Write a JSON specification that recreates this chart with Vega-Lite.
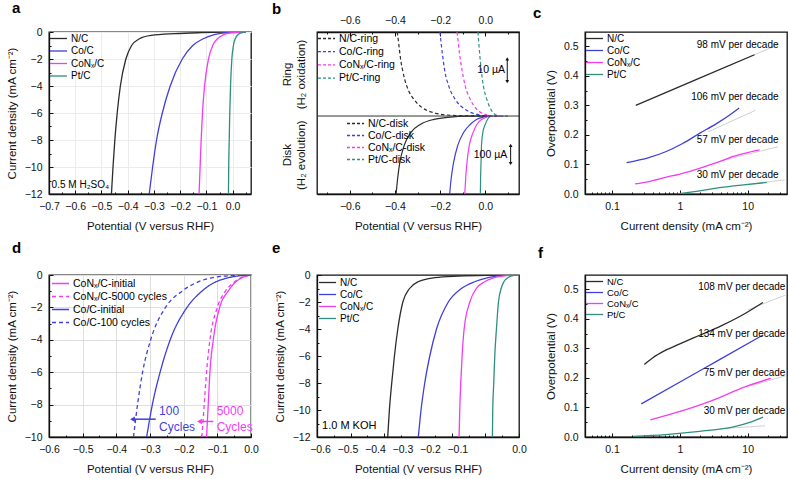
{
"$schema":"https://vega.github.io/schema/vega-lite/v6.json",
"padding":{"left":5,"top":0,"right":0,"bottom":0},
"bounds":"flush",
"columns":3,
"spacing":{"row":81,"column":66},
"resolve":{"scale":{"color":"independent","strokeDash":"independent"},"legend":{"color":"independent","strokeDash":"independent"}},
"config":{
 "font":"Liberation Sans",
 "view":{"stroke":"#111","strokeWidth":1.3},
 "axis":{"labelFontSize":10.5,"titleFontSize":11.5,"titleFontWeight":"normal","labelColor":"#111","titleColor":"#111","domainColor":"#111","tickColor":"#111","domainWidth":1.3,"tickWidth":1,"labelPadding":11,"titlePadding":7,"grid":false,"labelFlush":false,"labelOverlap":false,"labelBound":false},
 "legend":{"symbolType":"M-1,0L2.1,0","symbolSize":121,"symbolStrokeWidth":1.5,"symbolFillColor":"transparent","labelFontSize":10,"rowPadding":0.5,"padding":0,"labelOffset":9,"orient":"top-left","offset":0},
 "title":{"fontSize":15,"fontWeight":"bold","color":"#000","anchor":"start","frame":"group"},
 "line":{"strokeWidth":1.3,"interpolate":"monotone"},
 "text":{"fontSize":10,"font":"Liberation Sans"}
},
"datasets":{
 "a":[
  {"s":"N/C","x":-0.462,"y":-12},{"s":"N/C","x":-0.456,"y":-10},{"s":"N/C","x":-0.449,"y":-8},{"s":"N/C","x":-0.44,"y":-6},{"s":"N/C","x":-0.428,"y":-4},{"s":"N/C","x":-0.407,"y":-2},{"s":"N/C","x":-0.385,"y":-1},{"s":"N/C","x":-0.355,"y":-0.5},{"s":"N/C","x":-0.31,"y":-0.25},{"s":"N/C","x":-0.22,"y":-0.12},{"s":"N/C","x":-0.12,"y":-0.05},{"s":"N/C","x":-0.02,"y":-0.01},{"s":"N/C","x":0.05,"y":0},
  {"s":"Co/C","x":-0.318,"y":-12},{"s":"Co/C","x":-0.305,"y":-10},{"s":"Co/C","x":-0.29,"y":-8},{"s":"Co/C","x":-0.268,"y":-6},{"s":"Co/C","x":-0.238,"y":-4},{"s":"Co/C","x":-0.192,"y":-2},{"s":"Co/C","x":-0.152,"y":-1},{"s":"Co/C","x":-0.112,"y":-0.5},{"s":"Co/C","x":-0.07,"y":-0.2},{"s":"Co/C","x":-0.02,"y":-0.05},{"s":"Co/C","x":0.05,"y":0},
  {"s":"CoNₓ/C","x":-0.128,"y":-12},{"s":"CoNₓ/C","x":-0.124,"y":-10},{"s":"CoNₓ/C","x":-0.12,"y":-8},{"s":"CoNₓ/C","x":-0.115,"y":-6},{"s":"CoNₓ/C","x":-0.107,"y":-4},{"s":"CoNₓ/C","x":-0.092,"y":-2},{"s":"CoNₓ/C","x":-0.076,"y":-1},{"s":"CoNₓ/C","x":-0.058,"y":-0.5},{"s":"CoNₓ/C","x":-0.035,"y":-0.2},{"s":"CoNₓ/C","x":0.0,"y":-0.04},{"s":"CoNₓ/C","x":0.05,"y":0},
  {"s":"Pt/C","x":-0.016,"y":-12},{"s":"Pt/C","x":-0.015,"y":-10},{"s":"Pt/C","x":-0.013,"y":-8},{"s":"Pt/C","x":-0.011,"y":-6},{"s":"Pt/C","x":-0.008,"y":-4},{"s":"Pt/C","x":-0.003,"y":-2},{"s":"Pt/C","x":0.003,"y":-1},{"s":"Pt/C","x":0.01,"y":-0.5},{"s":"Pt/C","x":0.02,"y":-0.2},{"s":"Pt/C","x":0.035,"y":-0.05},{"s":"Pt/C","x":0.05,"y":0}
 ],
 "a_txt":[{"x":-0.69,"y":-11.3,"t":"0.5 M H₂SO₄"}],
 "b_ring":[
  {"s":"N/C-ring","x":-0.39,"y":1.0},{"s":"N/C-ring","x":-0.383,"y":0.856},{"s":"N/C-ring","x":-0.378,"y":0.74},{"s":"N/C-ring","x":-0.373,"y":0.642},{"s":"N/C-ring","x":-0.366,"y":0.544},{"s":"N/C-ring","x":-0.356,"y":0.428},{"s":"N/C-ring","x":-0.341,"y":0.311},{"s":"N/C-ring","x":-0.315,"y":0.194},{"s":"N/C-ring","x":-0.278,"y":0.097},{"s":"N/C-ring","x":-0.227,"y":0.039},{"s":"N/C-ring","x":-0.168,"y":0.012},{"s":"N/C-ring","x":-0.08,"y":0.002},{"s":"N/C-ring","x":0.05,"y":0},
  {"s":"Co/C-ring","x":-0.201,"y":1.0},{"s":"Co/C-ring","x":-0.19,"y":0.74},{"s":"Co/C-ring","x":-0.18,"y":0.544},{"s":"Co/C-ring","x":-0.161,"y":0.35},{"s":"Co/C-ring","x":-0.132,"y":0.194},{"s":"Co/C-ring","x":-0.088,"y":0.077},{"s":"Co/C-ring","x":-0.037,"y":0.019},{"s":"Co/C-ring","x":0.007,"y":0},{"s":"Co/C-ring","x":0.06,"y":0},
  {"s":"CoNₓ/C-ring","x":-0.125,"y":1.0},{"s":"CoNₓ/C-ring","x":-0.114,"y":0.74},{"s":"CoNₓ/C-ring","x":-0.103,"y":0.544},{"s":"CoNₓ/C-ring","x":-0.088,"y":0.35},{"s":"CoNₓ/C-ring","x":-0.066,"y":0.194},{"s":"CoNₓ/C-ring","x":-0.037,"y":0.077},{"s":"CoNₓ/C-ring","x":0.0,"y":0.019},{"s":"CoNₓ/C-ring","x":0.036,"y":0},{"s":"CoNₓ/C-ring","x":0.08,"y":0},
  {"s":"Pt/C-ring","x":-0.033,"y":1.0},{"s":"Pt/C-ring","x":-0.025,"y":0.74},{"s":"Pt/C-ring","x":-0.018,"y":0.544},{"s":"Pt/C-ring","x":-0.008,"y":0.35},{"s":"Pt/C-ring","x":0.007,"y":0.194},{"s":"Pt/C-ring","x":0.025,"y":0.077},{"s":"Pt/C-ring","x":0.043,"y":0.019},{"s":"Pt/C-ring","x":0.065,"y":0},{"s":"Pt/C-ring","x":0.1,"y":0}
 ],
 "b_disk":[
  {"s":"N/C-disk","x":-0.395,"y":-0.93},{"s":"N/C-disk","x":-0.388,"y":-0.74},{"s":"N/C-disk","x":-0.378,"y":-0.546},{"s":"N/C-disk","x":-0.359,"y":-0.35},{"s":"N/C-disk","x":-0.329,"y":-0.195},{"s":"N/C-disk","x":-0.286,"y":-0.098},{"s":"N/C-disk","x":-0.227,"y":-0.039},{"s":"N/C-disk","x":-0.154,"y":-0.012},{"s":"N/C-disk","x":-0.081,"y":-0.002},{"s":"N/C-disk","x":0.007,"y":0},
  {"s":"Co/C-disk","x":-0.158,"y":-0.93},{"s":"Co/C-disk","x":-0.151,"y":-0.74},{"s":"Co/C-disk","x":-0.14,"y":-0.546},{"s":"Co/C-disk","x":-0.122,"y":-0.35},{"s":"Co/C-disk","x":-0.096,"y":-0.195},{"s":"Co/C-disk","x":-0.066,"y":-0.098},{"s":"Co/C-disk","x":-0.037,"y":-0.039},{"s":"Co/C-disk","x":-0.008,"y":-0.012},{"s":"Co/C-disk","x":0.021,"y":0},
  {"s":"CoNₓ/C-disk","x":-0.091,"y":-0.93},{"s":"CoNₓ/C-disk","x":-0.087,"y":-0.74},{"s":"CoNₓ/C-disk","x":-0.081,"y":-0.546},{"s":"CoNₓ/C-disk","x":-0.071,"y":-0.35},{"s":"CoNₓ/C-disk","x":-0.054,"y":-0.195},{"s":"CoNₓ/C-disk","x":-0.037,"y":-0.098},{"s":"CoNₓ/C-disk","x":-0.015,"y":-0.039},{"s":"CoNₓ/C-disk","x":0.007,"y":-0.012},{"s":"CoNₓ/C-disk","x":0.029,"y":0},
  {"s":"Pt/C-disk","x":-0.022,"y":-0.93},{"s":"Pt/C-disk","x":-0.021,"y":-0.74},{"s":"Pt/C-disk","x":-0.019,"y":-0.546},{"s":"Pt/C-disk","x":-0.017,"y":-0.35},{"s":"Pt/C-disk","x":-0.011,"y":-0.195},{"s":"Pt/C-disk","x":0.0,"y":-0.098},{"s":"Pt/C-disk","x":0.01,"y":-0.039},{"s":"Pt/C-disk","x":0.018,"y":-0.012},{"s":"Pt/C-disk","x":0.029,"y":0}
 ],
 "b_base":[{"y":0}],
 "b_bar":[{"x":0.097,"lo":0.41,"hi":0.68},{"x":0.112,"lo":-0.565,"hi":-0.35}],
 "b_txt":[{"x":0.087,"y":0.545,"t":"10 µA"},{"x":0.097,"y":-0.46,"t":"100 µA"}],
 "c":[
  {"s":"N/C","x":0.224,"y":0.3},{"s":"N/C","x":1.7,"y":0.386},{"s":"N/C","x":12.6,"y":0.471},
  {"s":"Co/C","x":0.164,"y":0.106},{"s":"Co/C","x":0.348,"y":0.123},{"s":"Co/C","x":0.617,"y":0.143},{"s":"Co/C","x":1.1,"y":0.171},{"s":"Co/C","x":1.95,"y":0.205},{"s":"Co/C","x":3.47,"y":0.238},{"s":"Co/C","x":5.5,"y":0.268},{"s":"Co/C","x":7.5,"y":0.291},
  {"s":"CoNₓ/C","x":0.219,"y":0.034},{"s":"CoNₓ/C","x":0.35,"y":0.042},{"s":"CoNₓ/C","x":0.617,"y":0.056},{"s":"CoNₓ/C","x":1.1,"y":0.07},{"s":"CoNₓ/C","x":1.95,"y":0.087},{"s":"CoNₓ/C","x":3.47,"y":0.106},{"s":"CoNₓ/C","x":6.17,"y":0.127},{"s":"CoNₓ/C","x":10,"y":0.14},{"s":"CoNₓ/C","x":15,"y":0.149},
  {"s":"Pt/C","x":0.92,"y":0.0},{"s":"Pt/C","x":1.74,"y":0.009},{"s":"Pt/C","x":3.47,"y":0.02},{"s":"Pt/C","x":8.7,"y":0.031},{"s":"Pt/C","x":19.1,"y":0.039}
 ],
 "c_fit":[
  {"s":"N/C","x":3,"y":0.41},{"s":"N/C","x":28,"y":0.505},
  {"s":"Co/C","x":2.6,"y":0.21},{"s":"Co/C","x":13,"y":0.283},
  {"s":"CoNₓ/C","x":4,"y":0.112},{"s":"CoNₓ/C","x":28,"y":0.16},
  {"s":"Pt/C","x":10,"y":0.032},{"s":"Pt/C","x":35,"y":0.048}
 ],
 "c_txt":[{"x":28.5,"y":0.503,"t":"98 mV per decade"},{"x":28.5,"y":0.328,"t":"106 mV per decade"},{"x":28.5,"y":0.183,"t":"57 mV per decade"},{"x":28.5,"y":0.063,"t":"30 mV per decade"}],
 "d":[
  {"s":"CoNₓ/C-initial","x":-0.132,"y":-10},{"s":"CoNₓ/C-initial","x":-0.127,"y":-8},{"s":"CoNₓ/C-initial","x":-0.122,"y":-6},{"s":"CoNₓ/C-initial","x":-0.112,"y":-4},{"s":"CoNₓ/C-initial","x":-0.093,"y":-2},{"s":"CoNₓ/C-initial","x":-0.068,"y":-1},{"s":"CoNₓ/C-initial","x":-0.049,"y":-0.5},{"s":"CoNₓ/C-initial","x":-0.025,"y":-0.15},{"s":"CoNₓ/C-initial","x":0,"y":0},
  {"s":"CoNₓ/C-5000 cycles","x":-0.146,"y":-10},{"s":"CoNₓ/C-5000 cycles","x":-0.139,"y":-8},{"s":"CoNₓ/C-5000 cycles","x":-0.132,"y":-6},{"s":"CoNₓ/C-5000 cycles","x":-0.122,"y":-4},{"s":"CoNₓ/C-5000 cycles","x":-0.1,"y":-2},{"s":"CoNₓ/C-5000 cycles","x":-0.076,"y":-1},{"s":"CoNₓ/C-5000 cycles","x":-0.054,"y":-0.5},{"s":"CoNₓ/C-5000 cycles","x":-0.028,"y":-0.15},{"s":"CoNₓ/C-5000 cycles","x":0,"y":0},
  {"s":"Co/C-initial","x":-0.31,"y":-10},{"s":"Co/C-initial","x":-0.293,"y":-8},{"s":"Co/C-initial","x":-0.27,"y":-6},{"s":"Co/C-initial","x":-0.24,"y":-4},{"s":"Co/C-initial","x":-0.19,"y":-2},{"s":"Co/C-initial","x":-0.146,"y":-1},{"s":"Co/C-initial","x":-0.112,"y":-0.5},{"s":"Co/C-initial","x":-0.073,"y":-0.2},{"s":"Co/C-initial","x":-0.035,"y":-0.05},{"s":"Co/C-initial","x":0,"y":0},
  {"s":"Co/C-100 cycles","x":-0.349,"y":-10},{"s":"Co/C-100 cycles","x":-0.337,"y":-8},{"s":"Co/C-100 cycles","x":-0.322,"y":-6},{"s":"Co/C-100 cycles","x":-0.298,"y":-4},{"s":"Co/C-100 cycles","x":-0.254,"y":-2},{"s":"Co/C-100 cycles","x":-0.205,"y":-1},{"s":"Co/C-100 cycles","x":-0.16,"y":-0.45},{"s":"Co/C-100 cycles","x":-0.11,"y":-0.15},{"s":"Co/C-100 cycles","x":-0.05,"y":-0.03},{"s":"Co/C-100 cycles","x":0,"y":0}
 ],
 "d_arrow":[{"g":"Co","x":-0.283,"x2":-0.352,"y":-8.9},{"g":"CoN","x":-0.112,"x2":-0.153,"y":-9.04}],
 "d_txt":[{"g":"Co","x":-0.273,"y":-8.4,"t":"100"},{"g":"Co","x":-0.273,"y":-9.4,"t":"Cycles"},{"g":"CoN","x":-0.102,"y":-8.4,"t":"5000"},{"g":"CoN","x":-0.102,"y":-9.4,"t":"Cycles"}],
 "e":[
  {"s":"N/C","x":-0.39,"y":-12},{"s":"N/C","x":-0.385,"y":-10},{"s":"N/C","x":-0.378,"y":-8},{"s":"N/C","x":-0.37,"y":-6},{"s":"N/C","x":-0.36,"y":-4},{"s":"N/C","x":-0.345,"y":-2},{"s":"N/C","x":-0.325,"y":-1},{"s":"N/C","x":-0.3,"y":-0.5},{"s":"N/C","x":-0.25,"y":-0.2},{"s":"N/C","x":-0.18,"y":-0.08},{"s":"N/C","x":-0.1,"y":-0.02},{"s":"N/C","x":0,"y":0},
  {"s":"Co/C","x":-0.299,"y":-12},{"s":"Co/C","x":-0.291,"y":-10},{"s":"Co/C","x":-0.28,"y":-8},{"s":"Co/C","x":-0.265,"y":-6},{"s":"Co/C","x":-0.245,"y":-4},{"s":"Co/C","x":-0.21,"y":-2},{"s":"Co/C","x":-0.171,"y":-1},{"s":"Co/C","x":-0.132,"y":-0.5},{"s":"Co/C","x":-0.092,"y":-0.2},{"s":"Co/C","x":-0.04,"y":-0.03},{"s":"Co/C","x":0,"y":0},
  {"s":"CoNₓ/C","x":-0.178,"y":-12},{"s":"CoNₓ/C","x":-0.176,"y":-10},{"s":"CoNₓ/C","x":-0.173,"y":-8},{"s":"CoNₓ/C","x":-0.169,"y":-6},{"s":"CoNₓ/C","x":-0.163,"y":-4},{"s":"CoNₓ/C","x":-0.146,"y":-2},{"s":"CoNₓ/C","x":-0.127,"y":-1},{"s":"CoNₓ/C","x":-0.102,"y":-0.5},{"s":"CoNₓ/C","x":-0.073,"y":-0.2},{"s":"CoNₓ/C","x":-0.03,"y":-0.03},{"s":"CoNₓ/C","x":0,"y":0},
  {"s":"Pt/C","x":-0.079,"y":-12},{"s":"Pt/C","x":-0.078,"y":-10},{"s":"Pt/C","x":-0.075,"y":-8},{"s":"Pt/C","x":-0.072,"y":-6},{"s":"Pt/C","x":-0.067,"y":-4},{"s":"Pt/C","x":-0.061,"y":-2},{"s":"Pt/C","x":-0.053,"y":-1},{"s":"Pt/C","x":-0.045,"y":-0.5},{"s":"Pt/C","x":-0.033,"y":-0.2},{"s":"Pt/C","x":-0.015,"y":-0.02},{"s":"Pt/C","x":0,"y":0}
 ],
 "e_txt":[{"x":-0.585,"y":-11.15,"t":"1.0 M KOH"}],
 "f":[
  {"s":"N/C","x":0.3,"y":0.245},{"s":"N/C","x":0.4,"y":0.268},{"s":"N/C","x":0.6,"y":0.292},{"s":"N/C","x":1,"y":0.315},{"s":"N/C","x":2,"y":0.345},{"s":"N/C","x":4,"y":0.375},{"s":"N/C","x":8,"y":0.41},{"s":"N/C","x":16.8,"y":0.455},
  {"s":"Co/C","x":0.27,"y":0.112},{"s":"Co/C","x":1.1,"y":0.191},{"s":"Co/C","x":3.47,"y":0.256},{"s":"Co/C","x":16.8,"y":0.345},
  {"s":"CoNₓ/C","x":0.367,"y":0.058},{"s":"CoNₓ/C","x":1.1,"y":0.089},{"s":"CoNₓ/C","x":3.47,"y":0.129},{"s":"CoNₓ/C","x":8.7,"y":0.168},{"s":"CoNₓ/C","x":21.9,"y":0.198},
  {"s":"Pt/C","x":0.208,"y":0.002},{"s":"Pt/C","x":0.617,"y":0.008},{"s":"Pt/C","x":1.95,"y":0.019},{"s":"Pt/C","x":6.17,"y":0.034},{"s":"Pt/C","x":11,"y":0.05},{"s":"Pt/C","x":16.8,"y":0.067}
 ],
 "f_fit":[
  {"s":"N/C","x":10,"y":0.43},{"s":"N/C","x":36,"y":0.48},
  {"s":"CoNₓ/C","x":10,"y":0.17},{"s":"CoNₓ/C","x":36,"y":0.207},
  {"s":"Pt/C","x":4,"y":0.028},{"s":"Pt/C","x":18,"y":0.038}
 ],
 "f_txt":[{"x":36,"y":0.509,"t":"108 mV per decade"},{"x":36,"y":0.347,"t":"134 mV per decade"},{"x":36,"y":0.218,"t":"75 mV per decade"},{"x":36,"y":0.089,"t":"30 mV per decade"}]
},
"concat":[
 {
  "width":202,"height":162,
  "title":{"text":"a","dx":-37,"offset":11},
  "resolve":{"axis":{"x":"independent","y":"independent"}},
  "layer":[
   {"data":{"name":"a"},"mark":{"type":"line","clip":true},
    "encoding":{
     "x":{"field":"x","type":"quantitative","scale":{"domain":[-0.7,0.07],"nice":false,"zero":false},
      "axis":{"title":"Potential (V versus RHF)","labelOverlap":false,"values":[-0.7,-0.65,-0.6,-0.55,-0.5,-0.45,-0.4,-0.35,-0.3,-0.25,-0.2,-0.15,-0.1,-0.05,0,0.05],
       "labelExpr":"abs(datum.value*10-round(datum.value*10))<0.01 ? format(datum.value,'.1f') : ''",
       "tickSize":{"condition":{"test":"abs(datum.value*10-round(datum.value*10))<0.01","value":-4},"value":-2},
       "grid":true,"gridColor":"#ececec","gridOpacity":{"condition":{"test":"abs(datum.value*10-round(datum.value*10))<0.01","value":1},"value":0}}},
     "y":{"field":"y","type":"quantitative","scale":{"domain":[-12,0],"nice":false,"zero":false},
      "axis":{"title":"Current density (mA cm⁻²)","labelOverlap":false,"values":[-12,-11,-10,-9,-8,-7,-6,-5,-4,-3,-2,-1,0],
       "labelExpr":"datum.value%2==0 ? format(datum.value,'d') : ''",
       "tickSize":{"condition":{"test":"datum.value%2==0","value":-4},"value":-2},
       "grid":true,"gridColor":"#ececec","gridOpacity":{"condition":{"test":"datum.value%2==0","value":1},"value":0}}},
     "color":{"field":"s","type":"nominal","scale":{"domain":["N/C","Co/C","CoNₓ/C","Pt/C"],"range":["#2b2b2b","#3f3fd9","#f23cf2","#2e8f7f"]},"legend":{"title":null,"rowPadding":0.5}}
    }},
   {"data":{"name":"a_txt"},"mark":{"type":"text","align":"left","baseline":"middle","fontSize":10},
    "encoding":{"x":{"field":"x","type":"quantitative","axis":null},"y":{"field":"y","type":"quantitative","axis":null},"text":{"field":"t"}}}
  ]
 },
 {
  "width":202,"height":162,
  "title":{"text":"b","dx":-45,"offset":-4},
  "resolve":{"scale":{"color":"independent"},"axis":{"x":"independent","y":"independent"}},
  "layer":[
   {"data":{"name":"b_ring"},"mark":{"type":"line","strokeDash":[3.5,2.5],"strokeWidth":1.2,"clip":true},
    "encoding":{
     "x":{"field":"x","type":"quantitative","scale":{"domain":[-0.745,0.149],"nice":false,"zero":false},
      "axis":{"orient":"bottom","title":"Potential (V versus RHF)","labelOverlap":false,"values":[-0.7,-0.6,-0.5,-0.4,-0.3,-0.2,-0.1,0,0.1],
       "labelExpr":"abs(datum.value*5-round(datum.value*5))<0.01 ? format(datum.value,'.1f') : ''",
       "tickSize":{"condition":{"test":"abs(datum.value*5-round(datum.value*5))<0.01","value":-4},"value":-2}}},
     "y":{"field":"y","type":"quantitative","scale":{"domain":[-0.928,1],"nice":false,"zero":false},
      "axis":{"title":null,"values":[0.5,-0.46],"ticks":false,"domain":false,"labelOverlap":false,"labelAngle":-90,"labelAlign":"center","labelBaseline":"bottom","labelFontSize":11.5,"labelLineHeight":14,"labelPadding":25,
       "labelExpr":"datum.value > 0 ? ['Ring','(H₂ oxidation)'] : ['Disk','(H₂ evolution)']"}},
     "color":{"field":"s","type":"nominal","scale":{"domain":["N/C-ring","Co/C-ring","CoNₓ/C-ring","Pt/C-ring"],"range":["#2b2b2b","#3f3fd9","#f23cf2","#2e8f7f"]},
      "legend":{"title":null,"orient":"top-left","offset":0,"symbolDash":[3,2],"labelFontSize":10.5,"rowPadding":1.2}}
    }},
   {"data":{"name":"b_disk"},"mark":{"type":"line","strokeWidth":1.2,"clip":true},
    "encoding":{
     "x":{"field":"x","type":"quantitative",
      "axis":{"orient":"top","title":null,"labelOverlap":false,"values":[-0.7,-0.6,-0.5,-0.4,-0.3,-0.2,-0.1,0,0.1],
       "labelExpr":"abs(datum.value*5-round(datum.value*5))<0.01 ? format(datum.value,'.1f') : ''",
       "tickSize":{"condition":{"test":"abs(datum.value*5-round(datum.value*5))<0.01","value":-4},"value":-2}}},
     "y":{"field":"y","type":"quantitative","axis":null},
     "color":{"field":"s","type":"nominal","scale":{"domain":["N/C-disk","Co/C-disk","CoNₓ/C-disk","Pt/C-disk"],"range":["#2b2b2b","#3f3fd9","#f23cf2","#2e8f7f"]},
      "legend":{"title":null,"orient":"bottom-left","offset":29,"symbolDash":[3,2],"labelFontSize":10.5,"rowPadding":-0.5}}
    }},
   {"data":{"name":"b_base"},"mark":{"type":"rule","color":"#333","strokeWidth":1},
    "encoding":{"y":{"field":"y","type":"quantitative","axis":null}}},
   {"data":{"name":"b_bar"},"mark":{"type":"rule","color":"#111","strokeWidth":1},
    "encoding":{"x":{"field":"x","type":"quantitative","axis":null},"y":{"field":"lo","type":"quantitative","axis":null},"y2":{"field":"hi"}}},
   {"data":{"name":"b_bar"},"mark":{"type":"point","shape":"triangle-up","filled":true,"color":"#111","size":14,"opacity":1},
    "encoding":{"x":{"field":"x","type":"quantitative","axis":null},"y":{"field":"hi","type":"quantitative","axis":null}}},
   {"data":{"name":"b_bar"},"mark":{"type":"point","shape":"triangle-down","filled":true,"color":"#111","size":14,"opacity":1},
    "encoding":{"x":{"field":"x","type":"quantitative","axis":null},"y":{"field":"lo","type":"quantitative","axis":null}}},
   {"data":{"name":"b_txt"},"mark":{"type":"text","align":"right","baseline":"middle","fontSize":10.5},
    "encoding":{"x":{"field":"x","type":"quantitative","axis":null},"y":{"field":"y","type":"quantitative","axis":null},"text":{"field":"t"}}}
  ]
 },
 {
  "width":202,"height":162,
  "title":{"text":"c","dx":-52,"offset":11},
  "resolve":{"axis":{"x":"independent","y":"independent"}},
  "layer":[
   {"data":{"name":"c_fit"},"mark":{"type":"line","color":"#d0d0d0","strokeWidth":1,"interpolate":"linear"},
    "encoding":{"x":{"field":"x","type":"quantitative","axis":null},"y":{"field":"y","type":"quantitative","axis":null},"detail":{"field":"s"}}},
   {"data":{"name":"c"},"mark":{"type":"line","clip":true},
    "encoding":{
     "x":{"field":"x","type":"quantitative","scale":{"type":"log","domain":[0.04,38],"nice":false},
      "axis":{"title":"Current density (mA cm⁻²)","labelOverlap":false,"values":[0.04,0.05,0.06,0.07,0.08,0.09,0.1,0.2,0.3,0.4,0.5,0.6,0.7,0.8,0.9,1,2,3,4,5,6,7,8,9,10,20,30],
       "labelExpr":"(datum.value==0.1||datum.value==1||datum.value==10) ? ''+datum.value : ''",
       "tickSize":{"condition":{"test":"datum.value==0.1||datum.value==1||datum.value==10","value":-4},"value":-2}}},
     "y":{"field":"y","type":"quantitative","scale":{"domain":[0,0.548],"nice":false,"zero":false},
      "axis":{"title":"Overpotential (V)","labelOverlap":false,"values":[0,0.05,0.1,0.15,0.2,0.25,0.3,0.35,0.4,0.45,0.5],
       "labelExpr":"abs(datum.value*10-round(datum.value*10))<0.01 ? format(datum.value,'.1f') : ''",
       "tickSize":{"condition":{"test":"abs(datum.value*10-round(datum.value*10))<0.01","value":-4},"value":-2}}},
     "color":{"field":"s","type":"nominal","scale":{"domain":["N/C","Co/C","CoNₓ/C","Pt/C"],"range":["#2b2b2b","#3f3fd9","#f23cf2","#2e8f7f"]},"legend":{"title":null,"rowPadding":-0.5,"labelFontSize":10}}
    }},
   {"data":{"name":"c_txt"},"mark":{"type":"text","align":"right","baseline":"middle","fontSize":10},
    "encoding":{"x":{"field":"x","type":"quantitative","axis":null},"y":{"field":"y","type":"quantitative","axis":null},"text":{"field":"t"}}}
  ]
 },
 {
  "width":202,"height":162,
  "title":{"text":"d","dx":-37,"offset":14},
  "resolve":{"axis":{"x":"independent","y":"independent"}},
  "layer":[
   {"data":{"name":"d"},"mark":{"type":"line","clip":true},
    "encoding":{
     "x":{"field":"x","type":"quantitative","scale":{"domain":[-0.6,0],"nice":false,"zero":false},
      "axis":{"title":"Potential (V versus RHF)","labelOverlap":false,"values":[-0.6,-0.55,-0.5,-0.45,-0.4,-0.35,-0.3,-0.25,-0.2,-0.15,-0.1,-0.05,0],
       "labelExpr":"abs(datum.value*10-round(datum.value*10))<0.01 ? format(datum.value,'.1f') : ''",
       "tickSize":{"condition":{"test":"abs(datum.value*10-round(datum.value*10))<0.01","value":-4},"value":-2},
       "grid":true,"gridColor":"#dedede","gridOpacity":{"condition":{"test":"abs(datum.value*10-round(datum.value*10))<0.01","value":1},"value":0}}},
     "y":{"field":"y","type":"quantitative","scale":{"domain":[-10,0],"nice":false,"zero":false},
      "axis":{"title":"Current density (mA cm⁻²)","labelOverlap":false,"values":[-10,-9,-8,-7,-6,-5,-4,-3,-2,-1,0],
       "labelExpr":"datum.value%2==0 ? format(datum.value,'d') : ''",
       "tickSize":{"condition":{"test":"datum.value%2==0","value":-4},"value":-2},
       "grid":true,"gridColor":"#dedede","gridOpacity":{"condition":{"test":"datum.value%2==0","value":1},"value":0}}},
     "color":{"field":"s","type":"nominal","scale":{"domain":["CoNₓ/C-initial","CoNₓ/C-5000 cycles","Co/C-initial","Co/C-100 cycles"],"range":["#f23cf2","#f23cf2","#3f3fd9","#3f3fd9"]},"legend":{"title":null,"rowPadding":1,"labelFontSize":10.5,"offset":2}},
     "strokeDash":{"field":"s","type":"nominal","scale":{"domain":["CoNₓ/C-initial","CoNₓ/C-5000 cycles","Co/C-initial","Co/C-100 cycles"],"range":[[1,0],[4,3],[1,0],[4,3]]},"legend":{"title":null,"rowPadding":1,"labelFontSize":10.5,"offset":2}}
    }},
   {"data":{"name":"d_arrow"},"transform":[{"filter":"datum.g=='Co'"}],"mark":{"type":"rule","color":"#3f3fd9","strokeWidth":1.5},
    "encoding":{"x":{"field":"x","type":"quantitative","axis":null},"x2":{"field":"x2"},"y":{"field":"y","type":"quantitative","axis":null}}},
   {"data":{"name":"d_arrow"},"transform":[{"filter":"datum.g=='Co'"}],"mark":{"type":"point","shape":"triangle-left","filled":true,"color":"#3f3fd9","size":30,"opacity":1},
    "encoding":{"x":{"field":"x2","type":"quantitative","axis":null},"y":{"field":"y","type":"quantitative","axis":null}}},
   {"data":{"name":"d_arrow"},"transform":[{"filter":"datum.g=='CoN'"}],"mark":{"type":"rule","color":"#f23cf2","strokeWidth":1.5},
    "encoding":{"x":{"field":"x","type":"quantitative","axis":null},"x2":{"field":"x2"},"y":{"field":"y","type":"quantitative","axis":null}}},
   {"data":{"name":"d_arrow"},"transform":[{"filter":"datum.g=='CoN'"}],"mark":{"type":"point","shape":"triangle-left","filled":true,"color":"#f23cf2","size":30,"opacity":1},
    "encoding":{"x":{"field":"x2","type":"quantitative","axis":null},"y":{"field":"y","type":"quantitative","axis":null}}},
   {"data":{"name":"d_txt"},"transform":[{"filter":"datum.g=='Co'"}],"mark":{"type":"text","align":"left","baseline":"middle","fontSize":12,"color":"#3f3fd9"},
    "encoding":{"x":{"field":"x","type":"quantitative","axis":null},"y":{"field":"y","type":"quantitative","axis":null},"text":{"field":"t"}}},
   {"data":{"name":"d_txt"},"transform":[{"filter":"datum.g=='CoN'"}],"mark":{"type":"text","align":"left","baseline":"middle","fontSize":12,"color":"#f23cf2"},
    "encoding":{"x":{"field":"x","type":"quantitative","axis":null},"y":{"field":"y","type":"quantitative","axis":null},"text":{"field":"t"}}}
  ]
 },
 {
  "width":202,"height":162,
  "title":{"text":"e","dx":-45,"offset":14},
  "resolve":{"axis":{"x":"independent","y":"independent"}},
  "layer":[
   {"data":{"name":"e"},"mark":{"type":"line","clip":true},
    "encoding":{
     "x":{"field":"x","type":"quantitative","scale":{"domain":[-0.6,0],"nice":false,"zero":false},
      "axis":{"title":"Potential (V versus RHF)","labelOverlap":false,"values":[-0.6,-0.55,-0.5,-0.45,-0.4,-0.35,-0.3,-0.25,-0.2,-0.15,-0.1,-0.05,0],
       "labelExpr":"abs(datum.value*10-round(datum.value*10))<0.01 ? format(datum.value,'.1f') : ''",
       "labelOffset":{"expr":"datum.value < -0.05 ? 3 - 62*(datum.value+0.6) : 0"},
       "tickSize":{"condition":{"test":"abs(datum.value*10-round(datum.value*10))<0.01","value":-4},"value":-2}}},
     "y":{"field":"y","type":"quantitative","scale":{"domain":[-12,0],"nice":false,"zero":false},
      "axis":{"title":"Current density (mA cm⁻²)","labelOverlap":false,"values":[-12,-11,-10,-9,-8,-7,-6,-5,-4,-3,-2,-1,0],
       "labelExpr":"datum.value%2==0 ? format(datum.value,'d') : ''",
       "tickSize":{"condition":{"test":"datum.value%2==0","value":-4},"value":-2}}},
     "color":{"field":"s","type":"nominal","scale":{"domain":["N/C","Co/C","CoNₓ/C","Pt/C"],"range":["#2b2b2b","#3f3fd9","#f23cf2","#2e8f7f"]},"legend":{"title":null,"offset":1,"rowPadding":-0.5}}
    }},
   {"data":{"name":"e_txt"},"mark":{"type":"text","align":"left","baseline":"middle","fontSize":11},
    "encoding":{"x":{"field":"x","type":"quantitative","axis":null},"y":{"field":"y","type":"quantitative","axis":null},"text":{"field":"t"}}}
  ]
 },
 {
  "width":202,"height":162,
  "title":{"text":"f","dx":-47,"offset":14},
  "resolve":{"axis":{"x":"independent","y":"independent"}},
  "layer":[
   {"data":{"name":"f_fit"},"mark":{"type":"line","color":"#d0d0d0","strokeWidth":1,"interpolate":"linear"},
    "encoding":{"x":{"field":"x","type":"quantitative","axis":null},"y":{"field":"y","type":"quantitative","axis":null},"detail":{"field":"s"}}},
   {"data":{"name":"f"},"mark":{"type":"line","clip":true},
    "encoding":{
     "x":{"field":"x","type":"quantitative","scale":{"type":"log","domain":[0.04,38],"nice":false},
      "axis":{"title":"Current density (mA cm⁻²)","labelOverlap":false,"values":[0.04,0.05,0.06,0.07,0.08,0.09,0.1,0.2,0.3,0.4,0.5,0.6,0.7,0.8,0.9,1,2,3,4,5,6,7,8,9,10,20,30],
       "labelExpr":"(datum.value==0.1||datum.value==1||datum.value==10) ? ''+datum.value : ''",
       "tickSize":{"condition":{"test":"datum.value==0.1||datum.value==1||datum.value==10","value":-4},"value":-2}}},
     "y":{"field":"y","type":"quantitative","scale":{"domain":[0,0.548],"nice":false,"zero":false},
      "axis":{"title":"Overpotential (V)","labelOverlap":false,"values":[0,0.05,0.1,0.15,0.2,0.25,0.3,0.35,0.4,0.45,0.5],
       "labelExpr":"abs(datum.value*10-round(datum.value*10))<0.01 ? format(datum.value,'.1f') : ''",
       "tickSize":{"condition":{"test":"abs(datum.value*10-round(datum.value*10))<0.01","value":-4},"value":-2}}},
     "color":{"field":"s","type":"nominal","scale":{"domain":["N/C","Co/C","CoNₓ/C","Pt/C"],"range":["#2b2b2b","#3f3fd9","#f23cf2","#2e8f7f"]},"legend":{"title":null,"rowPadding":-1,"labelFontSize":9.5}}
    }},
   {"data":{"name":"f_txt"},"mark":{"type":"text","align":"right","baseline":"middle","fontSize":10},
    "encoding":{"x":{"field":"x","type":"quantitative","axis":null},"y":{"field":"y","type":"quantitative","axis":null},"text":{"field":"t"}}}
  ]
 }
]
}
